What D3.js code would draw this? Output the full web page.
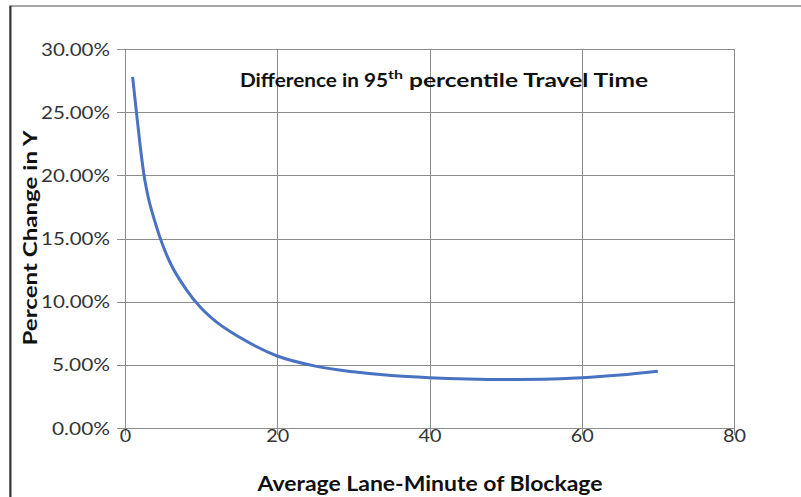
<!DOCTYPE html>
<html><head><meta charset="utf-8">
<script src="https://cdn.jsdelivr.net/npm/d3@7"></script>
<style>html,body{margin:0;padding:0;background:#fff;}svg{display:block;}</style>
</head><body>
<svg id="c" width="801" height="497"></svg>
<script>
const xValues = [1, 1.5, 2, 2.5, 3, 4, 5, 6, 8, 10, 12, 15, 20, 25, 30, 35, 40, 45, 50, 55, 60, 65, 70];
const yValues = [0.278, 0.250, 0.223, 0.200, 0.184, 0.162, 0.144, 0.130, 0.110, 0.095, 0.084, 0.072, 0.057, 0.049, 0.0445, 0.0415, 0.0398, 0.0388, 0.0384, 0.0386, 0.0398, 0.042, 0.045];
const xTicks = [0, 20, 40, 60, 80];
const yTicks = [0, 0.05, 0.10, 0.15, 0.20, 0.25, 0.30];
const chartTitle = ["Difference in 95", "th", " percentile Travel Time"];
const xTitle = "Average Lane-Minute of Blockage";
const yTitle = "Percent Change in Y";

const svg = d3.select("#c");
const font = "Lato, 'Open Sans', sans-serif";
const L = 125, R = 734, T = 49, B = 428;
const x = d3.scaleLinear().domain([0, 80]).range([L, R]);
const y = d3.scaleLinear().domain([0, 0.30]).range([B, T]);
const pct = d3.format(".2%");

// frame
svg.append("rect").attr("x", 10).attr("y", 6).attr("width", 900).attr("height", 600)
  .attr("fill", "#fff").attr("stroke", "#888").attr("stroke-width", 1.5);
svg.append("line").attr("x1", 10.5).attr("x2", 10.5).attr("y1", 6).attr("y2", 497)
  .attr("stroke", "#333").attr("stroke-width", 2);

// gridlines
const grid = svg.append("g").attr("stroke", "#8c8c8c").attr("stroke-width", 1);
yTicks.forEach(t => grid.append("line").attr("x1", L - 8).attr("x2", R)
  .attr("y1", Math.round(y(t)) + 0.5).attr("y2", Math.round(y(t)) + 0.5));
xTicks.forEach(t => grid.append("line").attr("x1", Math.round(x(t)) + 0.5).attr("x2", Math.round(x(t)) + 0.5)
  .attr("y1", T).attr("y2", B + 7));

// axis labels
const yAxis = d3.axisLeft(y).tickValues(yTicks).tickFormat(pct).tickSize(0).tickPadding(15);
const ga = svg.append("g").attr("transform", `translate(${L},0)`).call(yAxis);
ga.select(".domain").remove();
ga.selectAll("text").attr("font-family", font).attr("font-size", 17).attr("fill", "#333").attr("dy", "0.36em")
  .attr("textLength", d => pct(d).length === 6 ? 69 : 58).attr("lengthAdjust", "spacingAndGlyphs");

const xAxis = d3.axisBottom(x).tickValues(xTicks).tickSize(0).tickPadding(0);
const gx = svg.append("g").attr("transform", `translate(0,${B})`).call(xAxis);
gx.select(".domain").remove();
gx.selectAll("text").attr("font-family", font).attr("font-size", 17).attr("fill", "#333").attr("y", 14).attr("dy", "0")
  .attr("textLength", d => String(d).length * 11.5).attr("lengthAdjust", "spacingAndGlyphs");

// line
const data = xValues.map((v, i) => [v, yValues[i]]);
svg.append("path").datum(data)
  .attr("fill", "none").attr("stroke", "#4a72c2").attr("stroke-width", 3)
  .attr("d", d3.line().x(d => x(d[0])).y(d => y(d[1])).curve(d3.curveMonotoneX));

// titles
const t = svg.append("text").attr("x", 240).attr("y", 87).attr("font-family", font)
  .attr("font-weight", "bold").attr("font-size", 19).attr("fill", "#111");
t.append("tspan").text(chartTitle[0]).attr("textLength", 148).attr("lengthAdjust", "spacingAndGlyphs");
t.append("tspan").text(chartTitle[1]).attr("font-size", 12).attr("dy", -8).attr("textLength", 15).attr("lengthAdjust", "spacingAndGlyphs");
t.append("tspan").text(chartTitle[2]).attr("dy", 8).attr("textLength", 245).attr("lengthAdjust", "spacingAndGlyphs");

svg.append("text").attr("x", 430).attr("y", 491).attr("text-anchor", "middle")
  .attr("font-family", font).attr("font-weight", "bold").attr("font-size", 20.5).attr("fill", "#111")
  .attr("textLength", 345).attr("lengthAdjust", "spacingAndGlyphs").text(xTitle);
svg.append("text").attr("transform", "translate(37,238) rotate(-90)").attr("text-anchor", "middle")
  .attr("font-family", font).attr("font-weight", "bold").attr("font-size", 19).attr("fill", "#111")
  .attr("textLength", 215).attr("lengthAdjust", "spacingAndGlyphs").text(yTitle);
</script>
</body></html>
